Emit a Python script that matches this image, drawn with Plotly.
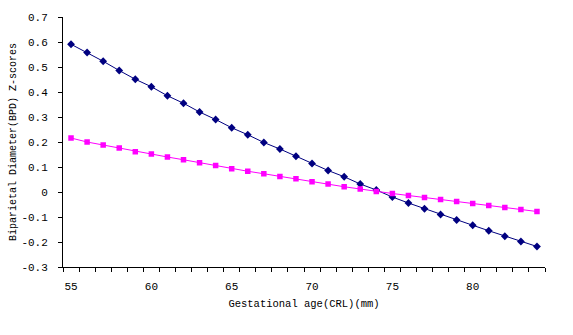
import plotly.graph_objects as go

# Gestational age categories (CRL, mm)
ages = list(range(55, 85))

# BPD z-score curves
series_navy = [0.591, 0.558, 0.523, 0.486, 0.451, 0.421, 0.385, 0.355, 0.320, 0.290,
               0.257, 0.229, 0.198, 0.172, 0.143, 0.114, 0.086, 0.061, 0.032, 0.008,
               -0.020, -0.044, -0.067, -0.090, -0.112, -0.133, -0.155, -0.177, -0.198, -0.218]
series_magenta = [0.216, 0.200, 0.188, 0.176, 0.161, 0.152, 0.140, 0.129, 0.117, 0.106,
                  0.093, 0.083, 0.073, 0.062, 0.053, 0.041, 0.032, 0.021, 0.012, 0.002,
                  -0.006, -0.014, -0.022, -0.030, -0.038, -0.046, -0.054, -0.062, -0.070, -0.078]

x_labels = [55, 60, 65, 70, 75, 80]
y_ticks = [-0.3, -0.2, -0.1, 0, 0.1, 0.2, 0.3, 0.4, 0.5, 0.6, 0.7]
y_tick_text = ["-0.3", "-0.2", "-0.1", "0", "0.1", "0.2", "0.3", "0.4", "0.5", "0.6", "0.7"]

# tick marks sit between categories, like a category axis
boundaries = [a - 0.5 for a in ages] + [ages[-1] + 0.5]

FONT = "Liberation Mono"

fig = go.Figure()
fig.add_trace(go.Scatter(
    x=ages, y=series_navy, mode="lines+markers",
    line=dict(color="#000080", width=1),
    marker=dict(symbol="diamond", size=6, color="#000080"),
    showlegend=False,
))
fig.add_trace(go.Scatter(
    x=ages, y=series_magenta, mode="lines+markers",
    line=dict(color="#FF00FF", width=1),
    marker=dict(symbol="square", size=5.5, color="#FF00FF"),
    showlegend=False,
))

fig.update_layout(
    width=573, height=335,
    margin=dict(l=57, r=28, t=15, b=68),
    paper_bgcolor="white", plot_bgcolor="white",
    font=dict(family=FONT, size=11, color="black"),
)
fig.update_xaxes(
    range=[ages[0] - 0.5, ages[-1] + 0.5],
    tickmode="array", tickvals=x_labels, ticks="", ticklen=0,
    ticklabelstandoff=9,
    minor=dict(tickmode="array", tickvals=boundaries, ticks="outside",
               ticklen=4, tickcolor="black", tickwidth=1, showgrid=False),
    showline=True, linecolor="black", linewidth=1,
    showgrid=False, zeroline=False,
    title=dict(text="Gestational age(CRL)(mm)", font=dict(family=FONT, size=10.5), standoff=7),
)
fig.update_yaxes(
    range=[-0.3, 0.7],
    tickmode="array", tickvals=y_ticks, ticktext=y_tick_text,
    ticks="outside", ticklen=4, tickcolor="black",
    ticklabelstandoff=8,
    showline=True, linecolor="black", linewidth=1,
    showgrid=False, zeroline=False,
    title=dict(text="Biparietal Diameter(BPD) Z-scores", font=dict(family=FONT, size=10), standoff=2),
)

fig.write_html("out.html")
